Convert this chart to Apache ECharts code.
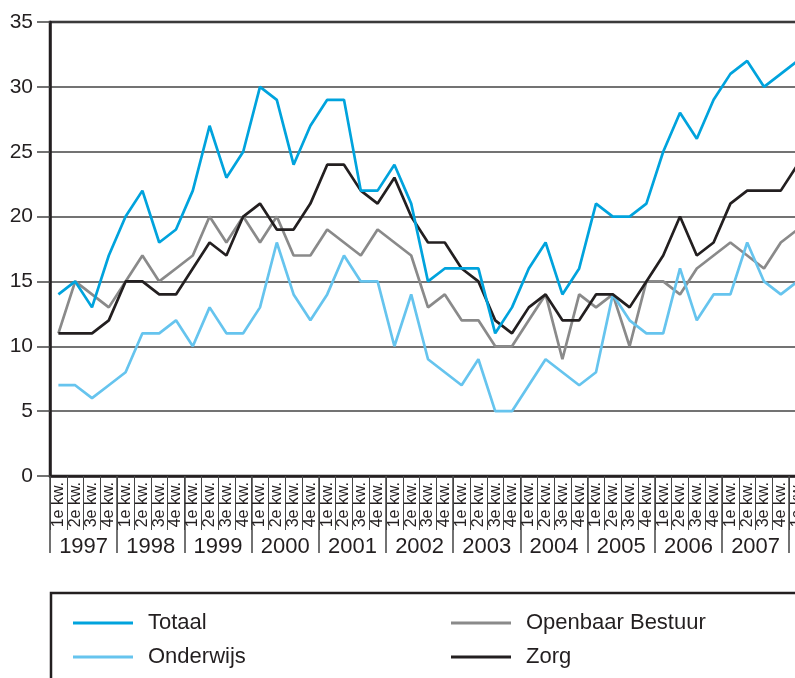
<!DOCTYPE html>
<html>
<head>
<meta charset="utf-8">
<script src="https://cdn.jsdelivr.net/npm/echarts@6/dist/echarts.min.js"></script>
<style>
  html, body { margin: 0; padding: 0; background: #fff; overflow: hidden; }
  /* de grafiek loopt rechts door buiten beeld, net als in het origineel */
  #chart { width: 870px; height: 678px; }
</style>
</head>
<body>
<div id="chart"></div>
<script>
// jaren en kwartalen (as loopt door tot en met 2008)
var years = ['1997', '1998', '1999', '2000', '2001', '2002', '2003', '2004', '2005', '2006', '2007', '2008'];
var quarterNames = ['1e kw.', '2e kw.', '3e kw.', '4e kw.'];

// waarden per kwartaal, 1997 1e kw. t/m 2008 1e kw.
var totaal = [14, 15, 13, 17, 20, 22, 18, 19, 22, 27, 23, 25, 30, 29, 24, 27, 29, 29, 22, 22, 24, 21, 15, 16, 16, 16, 11, 13, 16, 18, 14, 16, 21, 20, 20, 21, 25, 28, 26, 29, 31, 32, 30, 31, 32];
var onderwijs = [7, 7, 6, 7, 8, 11, 11, 12, 10, 13, 11, 11, 13, 18, 14, 12, 14, 17, 15, 15, 10, 14, 9, 8, 7, 9, 5, 5, 7, 9, 8, 7, 8, 14, 12, 11, 11, 16, 12, 14, 14, 18, 15, 14, 15];
var openbaarBestuur = [11, 15, 14, 13, 15, 17, 15, 16, 17, 20, 18, 20, 18, 20, 17, 17, 19, 18, 17, 19, 18, 17, 13, 14, 12, 12, 10, 10, 12, 14, 9, 14, 13, 14, 10, 15, 15, 14, 16, 17, 18, 17, 16, 18, 19];
var zorg = [11, 11, 11, 12, 15, 15, 14, 14, 16, 18, 17, 20, 21, 19, 19, 21, 24, 24, 22, 21, 23, 20, 18, 18, 16, 15, 12, 11, 13, 14, 12, 12, 14, 14, 13, 15, 17, 20, 17, 18, 21, 22, 22, 22, 24];

var quarters = [];
for (var i = 0; i < years.length; i++) {
  for (var j = 0; j < quarterNames.length; j++) {
    quarters.push(quarterNames[j]);
  }
}

var font = 'Liberation Sans, Arial, Helvetica, sans-serif';
var ink = '#231f20';

var myChart = echarts.init(document.getElementById('chart'));
var option = {
  animation: false,
  grid: {
    left: 50,
    top: 22,
    width: 806.4,
    height: 454,
    show: true,
    borderColor: ink,
    borderWidth: 2.5,
    backgroundColor: 'transparent'
  },
  xAxis: [{
    type: 'category',
    data: quarters,
    boundaryGap: true,
    axisLine: { lineStyle: { color: ink, width: 2.5 } },
    axisTick: { show: true, interval: 0, length: 54, lineStyle: { color: '#444', width: 1 } },
    axisLabel: {
      interval: 0,
      rotate: 90,
      margin: 6,
      fontSize: 16,
      fontFamily: font,
      color: ink
    },
    splitLine: { show: false }
  }, {
    type: 'category',
    data: years,
    position: 'bottom',
    boundaryGap: true,
    axisLine: { show: false },
    axisTick: { show: true, interval: 0, length: 77, lineStyle: { color: '#444', width: 1.5 } },
    axisLabel: {
      interval: 0,
      margin: 60,
      fontSize: 22,
      fontFamily: font,
      color: ink
    },
    splitLine: { show: false }
  }],
  yAxis: {
    type: 'value',
    min: 0,
    max: 35,
    interval: 5,
    axisLine: { show: true, lineStyle: { color: ink, width: 2.5 } },
    axisTick: { show: true, length: 13, lineStyle: { color: '#444', width: 1.5 } },
    axisLabel: { margin: 17, fontSize: 21, fontFamily: font, color: ink },
    splitLine: { show: true, lineStyle: { color: '#444', width: 1.5 } }
  },
  legend: [{
    orient: 'vertical',
    left: 68,
    top: 606,
    itemWidth: 60,
    itemHeight: 3,
    itemGap: 10,
    icon: 'rect',
    data: ['Totaal', 'Onderwijs'],
    textStyle: { fontSize: 22, fontFamily: font, color: ink, lineHeight: 24, padding: [0, 0, 0, 10] }
  }, {
    orient: 'vertical',
    left: 446,
    top: 606,
    itemWidth: 60,
    itemHeight: 3,
    itemGap: 10,
    icon: 'rect',
    data: ['Openbaar Bestuur', 'Zorg'],
    textStyle: { fontSize: 22, fontFamily: font, color: ink, lineHeight: 24, padding: [0, 0, 0, 10] }
  }],
  graphic: [{
    type: 'polyline',
    shape: { points: [[51, 680], [51, 593], [870, 593]] },
    style: { stroke: ink, lineWidth: 2.5, fill: null }
  }],
  series: [{
    name: 'Openbaar Bestuur',
    type: 'line',
    data: openbaarBestuur,
    symbol: 'none',
    color: '#8a8a8a',
    lineStyle: { width: 2.7 }
  }, {
    name: 'Onderwijs',
    type: 'line',
    data: onderwijs,
    symbol: 'none',
    color: '#66c4ee',
    lineStyle: { width: 2.7 }
  }, {
    name: 'Zorg',
    type: 'line',
    data: zorg,
    symbol: 'none',
    color: ink,
    lineStyle: { width: 2.7 }
  }, {
    name: 'Totaal',
    type: 'line',
    data: totaal,
    symbol: 'none',
    color: '#00a3dd',
    lineStyle: { width: 2.7 }
  }]
};
myChart.setOption(option);
</script>
</body>
</html>
